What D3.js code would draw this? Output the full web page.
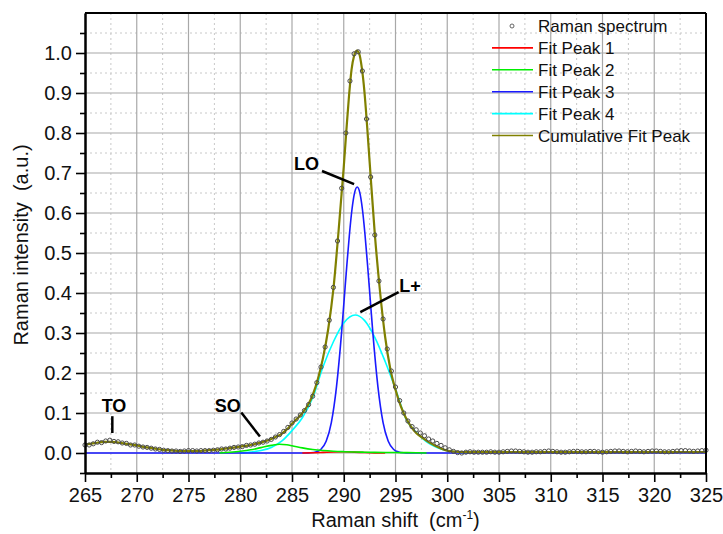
<!DOCTYPE html>
<html>
<head>
<meta charset="utf-8">
<script src="https://cdn.jsdelivr.net/npm/d3@7"></script>
<style>
  body { margin: 0; background: #fff; }
  svg { font-family: "Liberation Sans", Arial, sans-serif; }
  text { white-space: pre; }
</style>
</head>
<body>
<svg id="chart" width="723" height="534"></svg>
<script>
// measured spectrum, one point every 0.4 cm-1 starting at 265
const spectrumStart = 265;
const spectrumStep = 0.4;
const spectrumIntensity = [
  0.020,0.020,0.023,0.027,0.026,0.030,0.032,0.029,0.028,0.025,
  0.024,0.020,0.020,0.017,0.015,0.014,0.012,0.010,0.009,0.007,
  0.006,0.005,0.005,0.004,0.005,0.006,0.006,0.005,0.006,0.006,
  0.006,0.007,0.008,0.010,0.010,0.012,0.014,0.015,0.016,0.019,
  0.020,0.022,0.025,0.027,0.030,0.034,0.040,0.046,0.054,0.064,
  0.075,0.085,0.095,0.106,0.121,0.142,0.176,0.215,0.265,0.332,
  0.414,0.530,0.662,0.800,0.930,0.998,1.003,0.955,0.835,0.690,
  0.545,0.430,0.335,0.260,0.205,0.165,0.131,0.100,0.080,0.066,
  0.058,0.050,0.043,0.035,0.030,0.024,0.019,0.013,0.008,0.004,
  0.001,0.000,0.002,0.003,0.002,0.002,0.002,0.002,0.003,0.002,
  0.002,0.003,0.004,0.005,0.005,0.004,0.003,0.002,0.002,0.003,
  0.003,0.004,0.005,0.004,0.003,0.002,0.002,0.003,0.004,0.004,
  0.003,0.003,0.004,0.004,0.003,0.002,0.003,0.004,0.005,0.005,
  0.004,0.003,0.004,0.005,0.004,0.003,0.004,0.005,0.005,0.004,
  0.003,0.003,0.004,0.005,0.006,0.006,0.005,0.004,0.005,0.006,0.007
];

// fitted peaks, [shift, intensity]
const fitPeak1 = [[286,0],[287,0.0005],[288,0.0015],[289,0.0026],[290,0.003],[291,0.0022],[292,0.0011],[293,0.0003],[294,0]];
const fitPeak2 = [[278,0],[279,0.002],[280,0.0045],[281,0.008],[282,0.0135],[283,0.019],[283.8,0.022],[284.5,0.0205],[285,0.0181],
  [286,0.0128],[287,0.0087],[288,0.0061],[289,0.0044],[290,0.0033],[291,0.0025],[292,0.002],[293,0.0016],[294,0.0013],
  [295,0.0011],[296,0.001],[297,0.0008],[298,0]];
const fitPeak3 = [[265,0],[285.8,0],[286.3,0.0001],[286.8,0.0006],[287.3,0.0026],[287.8,0.0095],[288.3,0.0292],[288.8,0.076],
  [289.3,0.166],[289.8,0.304],[290.05,0.387],[290.3,0.470],[290.55,0.547],[290.8,0.610],[291.05,0.651],[291.3,0.665],
  [291.55,0.651],[291.8,0.610],[292.05,0.547],[292.3,0.470],[292.55,0.387],[292.8,0.304],[293.3,0.166],[293.8,0.076],
  [294.3,0.0292],[294.8,0.0095],[295.3,0.0026],[295.8,0.0006],[296.3,0.0001],[296.8,0],[325,0]];
const fitPeak4 = [[280,0],[281,0.0024],[282,0.0061],[283,0.014],[284,0.0294],[285,0.056],[286,0.088],[287,0.138],[288,0.2158],
  [289,0.2782],[290,0.3252],[291.1,0.345],[292,0.3316],[293,0.2892],[294,0.2288],[295,0.160],[296,0.086],[297,0.052],
  [298,0.028],[299,0.014],[300,0.006],[301,0.002],[302,0]];
const fitCumulative = [[265,0.021],[265.5,0.023],[266,0.025],[266.5,0.027],[267,0.028],[267.5,0.028],[268,0.027],[268.5,0.025],
  [269,0.023],[269.5,0.021],[270,0.019],[270.5,0.016],[271,0.014],[271.5,0.012],[272,0.010],[272.5,0.008],[273,0.007],
  [273.5,0.006],[274,0.005],[274.5,0.005],[275,0.005],[275.5,0.005],[276,0.005],[276.5,0.006],[277,0.007],[277.5,0.008],
  [278,0.009],[278.5,0.011],[279,0.012],[279.5,0.014],[280,0.016],[280.5,0.018],[281,0.020],[281.5,0.023],[282,0.026],
  [282.5,0.030],[283,0.035],[283.5,0.041],[284,0.048],[284.5,0.059],[285,0.073],[285.5,0.086],[286,0.100],[286.5,0.118],
  [287,0.145],[287.5,0.185],[288,0.238],[288.5,0.310],[289,0.410],[289.5,0.555],[290,0.715],[290.25,0.805],[290.5,0.890],
  [290.75,0.958],[291,0.993],[291.25,1.006],[291.5,0.998],[291.75,0.962],[292,0.903],[292.25,0.820],[292.5,0.728],
  [293,0.548],[293.5,0.405],[294,0.290],[294.5,0.210],[295,0.158],[295.5,0.118],[296,0.088],[296.5,0.066],[297,0.050],
  [297.5,0.040],[298,0.031],[298.5,0.023],[299,0.016],[299.5,0.010],[300,0.006],[300.5,0.004],[301,0.003],[302,0.002],
  [305,0.002],[310,0.002],[315,0.002],[320,0.002],[325,0.002]];

const xTickValues = [265,270,275,280,285,290,295,300,305,310,315,320,325];
const yTickValues = [0.0,0.1,0.2,0.3,0.4,0.5,0.6,0.7,0.8,0.9,1.0];

const legendNames = ["Raman spectrum","Fit Peak 1","Fit Peak 2","Fit Peak 3","Fit Peak 4","Cumulative Fit Peak"];
const legendColors = ["#555555","#ff0000","#00ee00","#1a1aff","#00ffff","#808000"];

// peak labels: text position and leader line, in data units
const annotations = [
  { text: "TO", tx: 267.8, ty: 0.102, x1: 267.64, y1: 0.092, x2: 267.64, y2: 0.05 },
  { text: "SO", tx: 278.8, ty: 0.102, x1: 280.1, y1: 0.101, x2: 281.9, y2: 0.041 },
  { text: "LO", tx: 286.4, ty: 0.707, x1: 287.9, y1: 0.705, x2: 291.0, y2: 0.672 },
  { text: "L+", tx: 296.4, ty: 0.402, x1: 295.3, y1: 0.402, x2: 291.6, y2: 0.352 }
];

const svg = d3.select("#chart");
const plotLeft = 85, plotRight = 706, plotTop = 13, plotBottom = 473;

const x = d3.scaleLinear().domain([265, 325]).range([plotLeft, plotRight]);
const y = d3.scaleLinear().domain([-0.05, 1.1]).range([plotBottom, plotTop]);

// grid
const grid = svg.append("g");
const xMinor = d3.range(267.5, 325, 5);
const yMinor = d3.range(0.05, 1.1, 0.1);
grid.selectAll(".gxm").data(xMinor).enter().append("line")
  .attr("x1", d => x(d)).attr("x2", d => x(d)).attr("y1", plotTop).attr("y2", plotBottom)
  .attr("stroke", "#c8c8c8").attr("stroke-dasharray", "2,3");
grid.selectAll(".gym").data(yMinor).enter().append("line")
  .attr("x1", plotLeft).attr("x2", plotRight).attr("y1", d => y(d)).attr("y2", d => y(d))
  .attr("stroke", "#c8c8c8").attr("stroke-dasharray", "2,3");
grid.selectAll(".gx").data(xTickValues.slice(1, -1)).enter().append("line")
  .attr("x1", d => x(d)).attr("x2", d => x(d)).attr("y1", plotTop).attr("y2", plotBottom)
  .attr("stroke", "#a8a8a8").attr("stroke-width", 1.2);
grid.selectAll(".gy").data(yTickValues).enter().append("line")
  .attr("x1", plotLeft).attr("x2", plotRight).attr("y1", d => y(d)).attr("y2", d => y(d))
  .attr("stroke", "#a8a8a8").attr("stroke-width", 1.2);

// fit curves
const line = d3.line().x(d => x(d[0])).y(d => y(d[1])).curve(d3.curveMonotoneX);
const curves = svg.append("g").attr("fill", "none");
curves.append("path").datum(fitPeak4).attr("d", line).attr("stroke", legendColors[4]).attr("stroke-width", 1.6);
curves.append("path").datum(fitPeak3).attr("d", line).attr("stroke", legendColors[3]).attr("stroke-width", 1.6);
curves.append("path").datum(fitPeak1).attr("d", line).attr("stroke", legendColors[1]).attr("stroke-width", 1.6);
curves.append("path").datum(fitPeak2).attr("d", line).attr("stroke", legendColors[2]).attr("stroke-width", 1.6);
curves.append("path").datum(fitCumulative).attr("d", line).attr("stroke", legendColors[5]).attr("stroke-width", 2.2);

// spectrum points
svg.append("g").selectAll("circle")
  .data(spectrumIntensity).enter().append("circle")
  .attr("cx", (d, i) => x(spectrumStart + i * spectrumStep))
  .attr("cy", d => y(d))
  .attr("r", 2.1)
  .attr("fill", "none")
  .attr("stroke", "#4a4a4a")
  .attr("stroke-width", 1);

// axes
svg.append("g").attr("transform", `translate(${plotLeft},0)`)
  .call(d3.axisLeft(y).tickValues(yTickValues).tickSize(9).tickSizeOuter(0).tickPadding(4).tickFormat(d3.format(".1f")));
svg.append("g").attr("transform", `translate(${plotLeft},0)`)
  .call(d3.axisLeft(y).tickValues(d3.range(-0.05, 1.1, 0.1)).tickSize(5).tickSizeOuter(0).tickFormat(""));
svg.append("g").attr("transform", `translate(0,${plotBottom})`)
  .call(d3.axisBottom(x).tickValues(xTickValues).tickSize(9).tickSizeOuter(0).tickPadding(6).tickFormat(d3.format("d")));
svg.append("g").attr("transform", `translate(0,${plotBottom})`)
  .call(d3.axisBottom(x).tickValues(xMinor).tickSize(5).tickSizeOuter(0).tickFormat(""));

svg.selectAll(".domain").attr("stroke", "#000").attr("stroke-width", 2);
svg.selectAll(".tick line").attr("stroke", "#000").attr("stroke-width", 1.6);
svg.selectAll(".tick text").attr("font-size", 20).attr("fill", "#111")
  .attr("font-family", "'Liberation Sans', Arial, sans-serif");

// frame top/right
svg.append("line").attr("x1", plotLeft).attr("x2", plotRight).attr("y1", plotTop).attr("y2", plotTop)
  .attr("stroke", "#000").attr("stroke-width", 2);
svg.append("line").attr("x1", plotRight).attr("x2", plotRight).attr("y1", plotTop).attr("y2", plotBottom)
  .attr("stroke", "#000").attr("stroke-width", 2);

// axis titles
svg.append("text")
  .attr("x", (plotLeft + plotRight) / 2).attr("y", 527)
  .attr("text-anchor", "middle").attr("font-size", 20).attr("fill", "#111")
  .call(t => {
    t.append("tspan").text("Raman shift  (cm");
    t.append("tspan").attr("font-size", 12).attr("dy", -8).text("-1");
    t.append("tspan").attr("dy", 8).text(")");
  });
svg.append("text")
  .attr("transform", `translate(28,${(plotTop + plotBottom) / 2 + 2}) rotate(-90)`)
  .attr("text-anchor", "middle").attr("font-size", 20).attr("fill", "#111")
  .text("Raman intensity  (a.u.)");

// legend
const legend = svg.append("g");
legendNames.forEach((name, i) => {
  const ly = 26 + i * 21.9;
  if (i === 0) {
    legend.append("circle").attr("cx", 512).attr("cy", ly).attr("r", 2)
      .attr("fill", "none").attr("stroke", legendColors[0]).attr("stroke-width", 0.9);
  } else {
    legend.append("line").attr("x1", 492).attr("x2", 533).attr("y1", ly).attr("y2", ly)
      .attr("stroke", legendColors[i]).attr("stroke-width", 1.6);
  }
  legend.append("text").attr("x", 538).attr("y", ly + 6)
    .attr("font-size", 17).attr("fill", "#111").text(name);
});

// peak labels
const notes = svg.append("g");
notes.selectAll("line").data(annotations).enter().append("line")
  .attr("x1", d => x(d.x1)).attr("y1", d => y(d.y1))
  .attr("x2", d => x(d.x2)).attr("y2", d => y(d.y2))
  .attr("stroke", "#000").attr("stroke-width", 2.5);
notes.selectAll("text").data(annotations).enter().append("text")
  .attr("x", d => x(d.tx)).attr("y", d => y(d.ty))
  .attr("text-anchor", "middle").attr("font-size", 18).attr("font-weight", "bold")
  .text(d => d.text);
</script>
</body>
</html>
